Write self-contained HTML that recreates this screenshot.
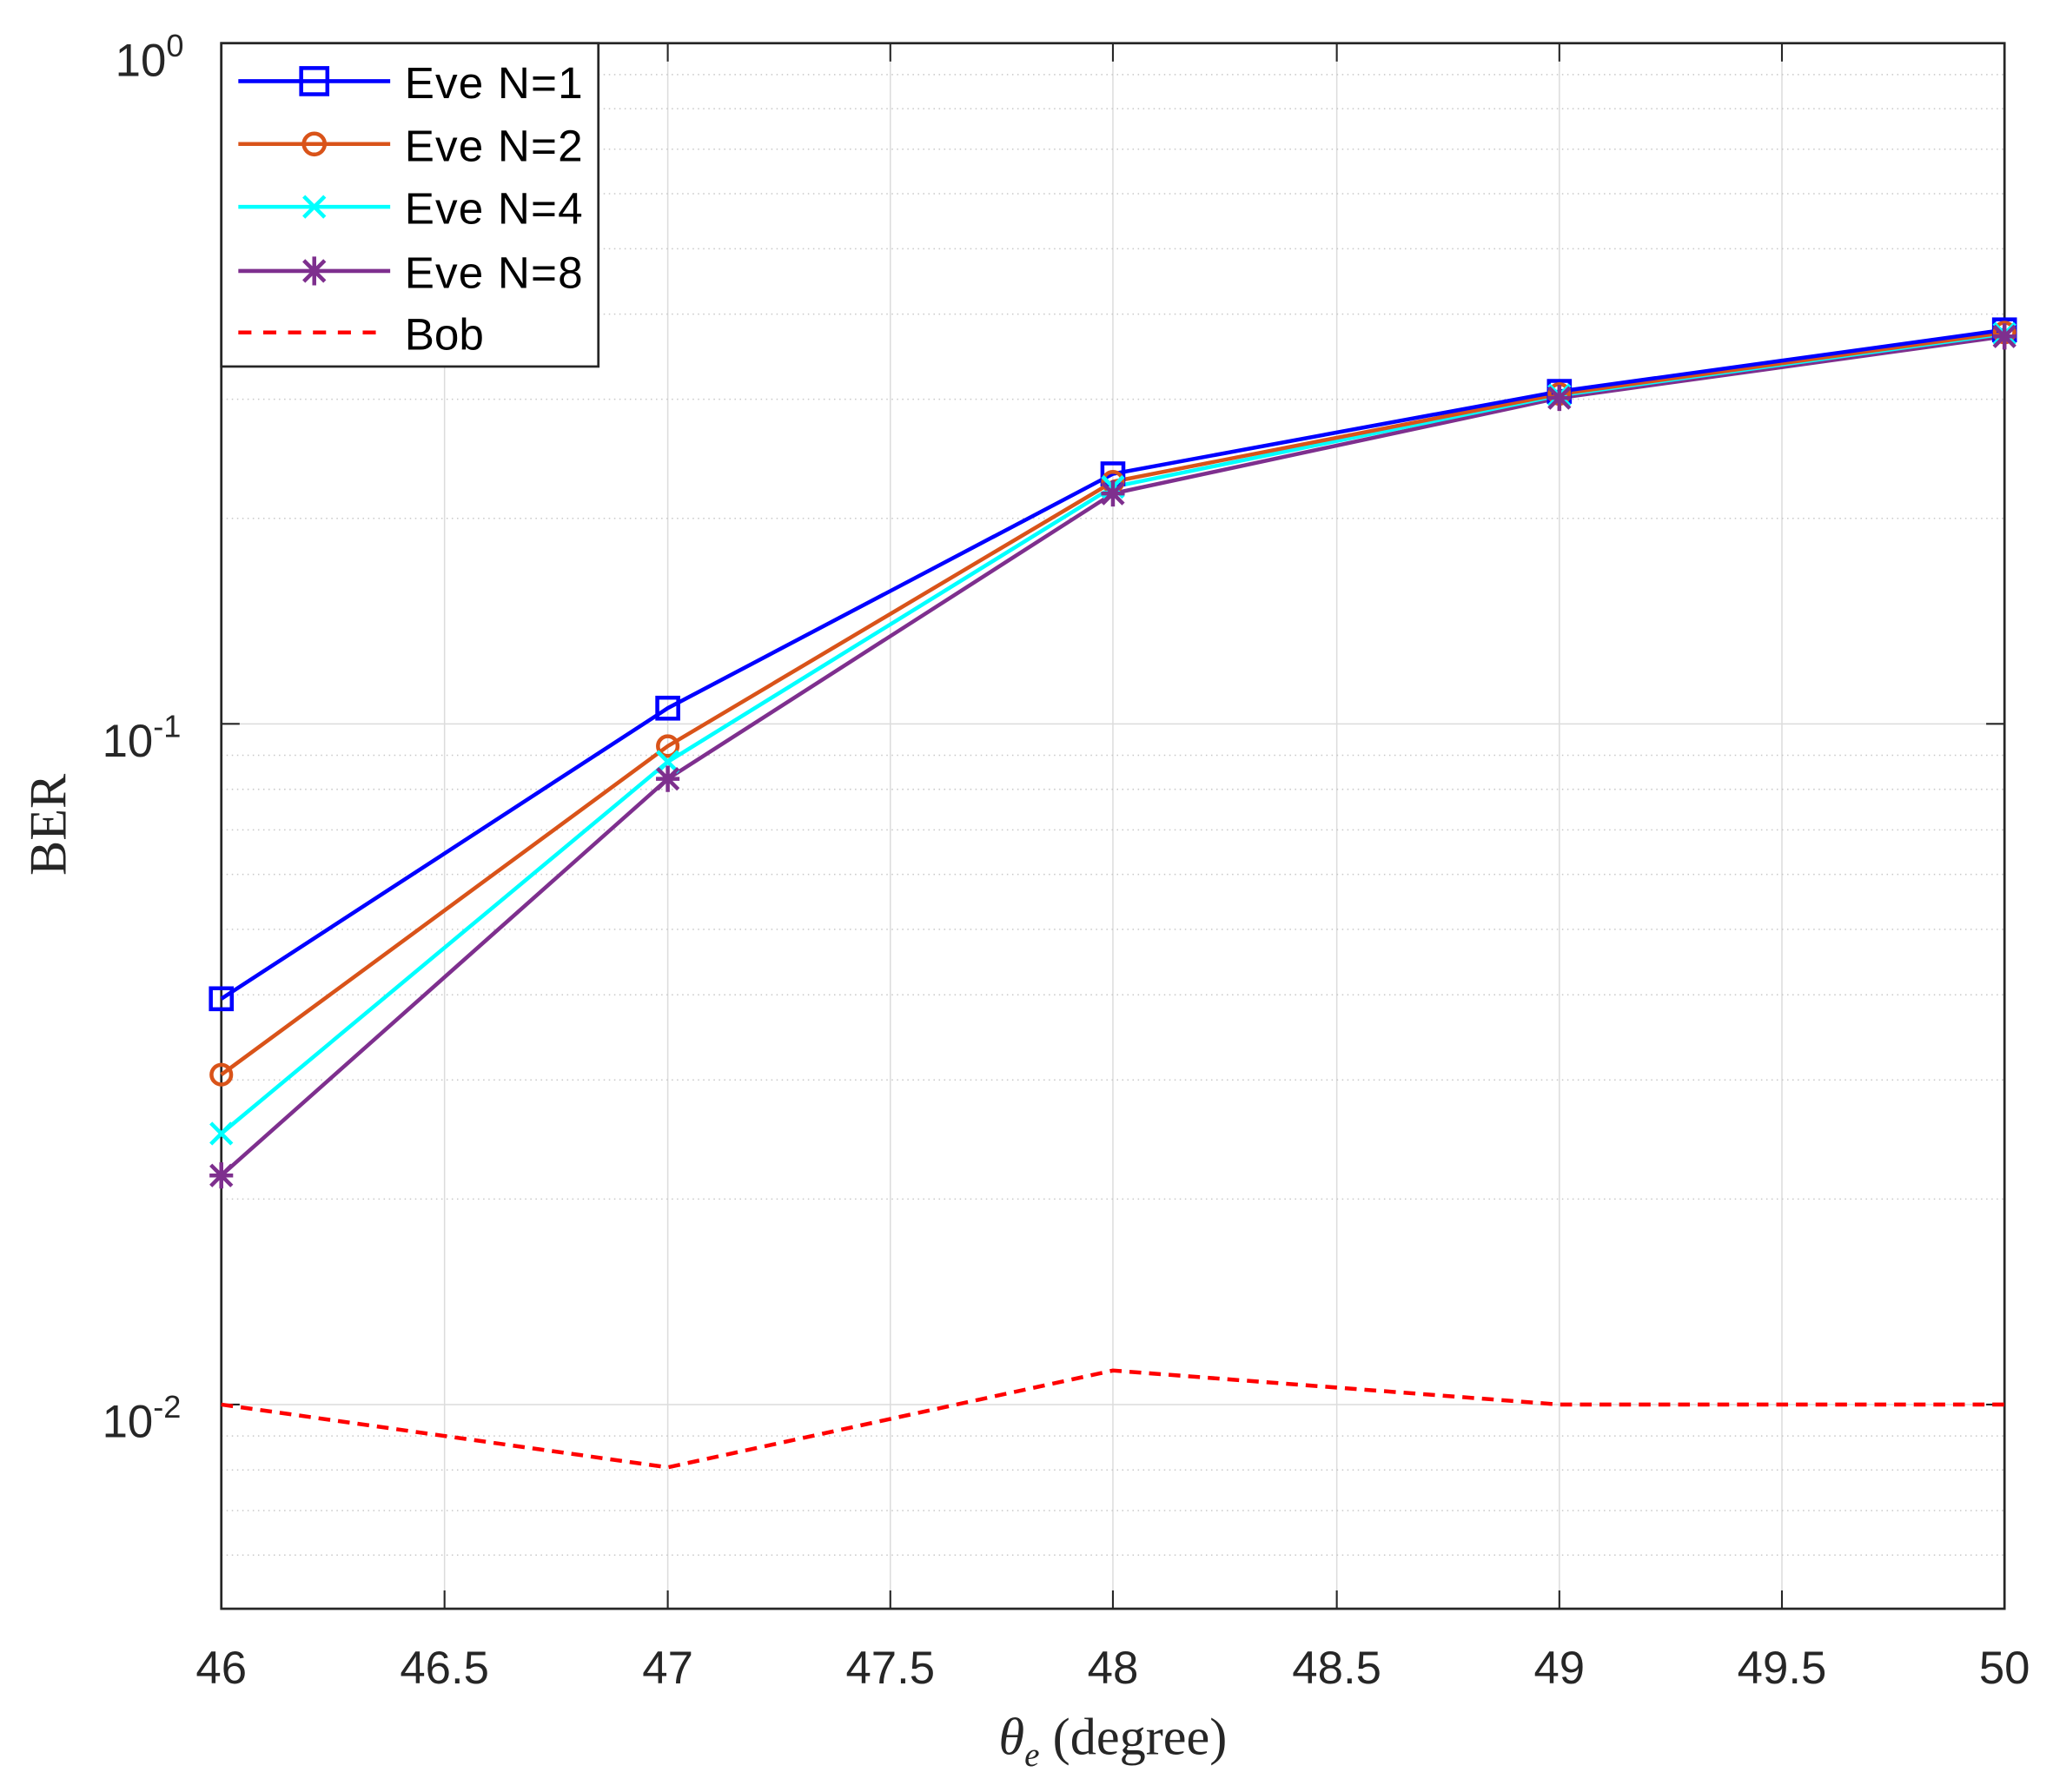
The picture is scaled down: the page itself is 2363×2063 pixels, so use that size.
<!DOCTYPE html>
<html><head><style>html,body{margin:0;padding:0;background:#fff}svg{display:block}</style></head>
<body>
<svg width="2363" height="2063" viewBox="0 0 1568 1369" xmlns="http://www.w3.org/2000/svg" font-family="Liberation Sans, Arial, sans-serif">
<rect width="1568" height="1369" fill="#fff"/>
<g stroke="#dcdcdc" stroke-width="1">
<line x1="339.5" y1="33" x2="339.5" y2="1229"/><line x1="510" y1="33" x2="510" y2="1229"/>
<line x1="680" y1="33" x2="680" y2="1229"/><line x1="850" y1="33" x2="850" y2="1229"/>
<line x1="1021" y1="33" x2="1021" y2="1229"/><line x1="1191" y1="33" x2="1191" y2="1229"/>
<line x1="1361" y1="33" x2="1361" y2="1229"/>
<line x1="169" y1="553" x2="1531" y2="553"/><line x1="169" y1="1073" x2="1531" y2="1073"/>
</g>
<g stroke="#c8c8c8" stroke-width="1" stroke-dasharray="1,3">
<line x1="169" y1="57" x2="1531" y2="57"/><line x1="169" y1="83" x2="1531" y2="83"/><line x1="169" y1="114" x2="1531" y2="114"/><line x1="169" y1="148" x2="1531" y2="148"/><line x1="169" y1="190" x2="1531" y2="190"/><line x1="169" y1="240" x2="1531" y2="240"/><line x1="169" y1="305" x2="1531" y2="305"/><line x1="169" y1="396" x2="1531" y2="396"/>
<line x1="169" y1="577" x2="1531" y2="577"/><line x1="169" y1="603" x2="1531" y2="603"/><line x1="169" y1="634" x2="1531" y2="634"/><line x1="169" y1="668" x2="1531" y2="668"/><line x1="169" y1="710" x2="1531" y2="710"/><line x1="169" y1="760" x2="1531" y2="760"/><line x1="169" y1="825" x2="1531" y2="825"/><line x1="169" y1="916" x2="1531" y2="916"/>
<line x1="169" y1="1097" x2="1531" y2="1097"/><line x1="169" y1="1123" x2="1531" y2="1123"/><line x1="169" y1="1154" x2="1531" y2="1154"/><line x1="169" y1="1188" x2="1531" y2="1188"/>
</g>
<rect x="169" y="33" width="1362" height="1196" fill="none" stroke="#262626" stroke-width="1.8"/>
<g stroke="#262626" stroke-width="1.4">
<line x1="339.5" y1="1229" x2="339.5" y2="1215"/><line x1="510" y1="1229" x2="510" y2="1215"/><line x1="680" y1="1229" x2="680" y2="1215"/><line x1="850" y1="1229" x2="850" y2="1215"/><line x1="1021" y1="1229" x2="1021" y2="1215"/><line x1="1191" y1="1229" x2="1191" y2="1215"/><line x1="1361" y1="1229" x2="1361" y2="1215"/>
<line x1="339.5" y1="33" x2="339.5" y2="47"/><line x1="510" y1="33" x2="510" y2="47"/><line x1="680" y1="33" x2="680" y2="47"/><line x1="850" y1="33" x2="850" y2="47"/><line x1="1021" y1="33" x2="1021" y2="47"/><line x1="1191" y1="33" x2="1191" y2="47"/><line x1="1361" y1="33" x2="1361" y2="47"/>
<line x1="169" y1="553" x2="183" y2="553"/><line x1="1531" y1="553" x2="1517" y2="553"/>
<line x1="169" y1="1073" x2="183" y2="1073"/><line x1="1531" y1="1073" x2="1517" y2="1073"/>
</g>
<g font-size="35" fill="#262626" text-anchor="middle">
<text x="169" y="1286">46</text><text x="339.5" y="1286">46.5</text><text x="510" y="1286">47</text><text x="680" y="1286">47.5</text><text x="850" y="1286">48</text><text x="1021" y="1286">48.5</text><text x="1191" y="1286">49</text><text x="1361" y="1286">49.5</text><text x="1531" y="1286">50</text>
</g>
<g font-size="35" fill="#262626" text-anchor="end">
<text x="150" y="58" text-anchor="start" dx="-62">10<tspan font-size="24" dy="-15">0</tspan></text>
<text x="150" y="578" text-anchor="start" dx="-72">10<tspan font-size="24" dy="-15">-1</tspan></text>
<text x="150" y="1098" text-anchor="start" dx="-72">10<tspan font-size="24" dy="-15">-2</tspan></text>
</g>
<text x="850" y="1340" font-family="Liberation Serif, serif" font-size="40" fill="#262626" text-anchor="middle"><tspan font-style="italic">θ</tspan><tspan font-style="italic" font-size="26" dy="9">e</tspan><tspan dy="-9">  (degree)</tspan></text>
<text transform="translate(50,630) rotate(-90)" font-family="Liberation Serif, serif" font-size="40" fill="#262626" text-anchor="middle">BER</text>
<polyline points="169,1073 510,1121 850,1047 1191,1073 1531,1073" fill="none" stroke="#ff0000" stroke-width="3" stroke-dasharray="9,6"/>
<g fill="none" stroke-width="3">
<polyline points="169,898 510,595 850,377 1191,304 1531,257" stroke="#7e2f8e"/>
<polyline points="169,866 510,582 850,372 1191,302 1531,255" stroke="#00ffff"/>
<polyline points="169,821 510,570 850,368 1191,301 1531,254" stroke="#d95319"/>
<polyline points="169,763 510,541 850,362 1191,299 1531,252" stroke="#0000ff"/>
</g>
<g fill="none" stroke="#0000ff" stroke-width="3">
<rect x="161" y="755" width="16" height="16"/><rect x="502" y="533" width="16" height="16"/><rect x="842" y="354" width="16" height="16"/><rect x="1183" y="291" width="16" height="16"/><rect x="1523" y="244" width="16" height="16"/>
</g>
<g fill="none" stroke="#d95319" stroke-width="3">
<circle cx="169" cy="821" r="7.5"/><circle cx="510" cy="570" r="7.5"/><circle cx="850" cy="368" r="7.5"/><circle cx="1191" cy="301" r="7.5"/><circle cx="1531" cy="254" r="7.5"/>
</g>
<g stroke="#00ffff" stroke-width="3">
<path d="M161,858l16,16M177,858l-16,16M502,574l16,16M518,574l-16,16M842,364l16,16M858,364l-16,16M1183,294l16,16M1199,294l-16,16M1523,247l16,16M1539,247l-16,16"/>
</g>
<g stroke="#7e2f8e" stroke-width="3">
<path d="M161,890l16,16M177,890l-16,16M169,888v20M160,898h18 M502,587l16,16M518,587l-16,16M510,585v20M501,595h18 M842,369l16,16M858,369l-16,16M850,367v20M841,377h18 M1183,296l16,16M1199,296l-16,16M1191,294v20M1182,304h18 M1523,249l16,16M1539,249l-16,16M1531,247v20M1522,257h18"/>
</g>
<rect x="169" y="33" width="288" height="247" fill="#fff" stroke="#262626" stroke-width="1.8"/>
<g stroke-width="3" fill="none">
<line x1="182" y1="62" x2="298" y2="62" stroke="#0000ff"/><rect x="230" y="52" width="20" height="20" stroke="#0000ff"/>
<line x1="182" y1="110" x2="298" y2="110" stroke="#d95319"/><circle cx="240" cy="110" r="8" stroke="#d95319"/>
<line x1="182" y1="158" x2="298" y2="158" stroke="#00ffff"/><path d="M232,150l16,16M248,150l-16,16" stroke="#00ffff"/>
<line x1="182" y1="207" x2="298" y2="207" stroke="#7e2f8e"/><path d="M232,199l16,16M248,199l-16,16M240,196v22" stroke="#7e2f8e"/>
<line x1="182" y1="254" x2="290" y2="254" stroke="#ff0000" stroke-dasharray="10,9"/>
</g>
<g font-size="34" fill="#000">
<text x="309" y="75" textLength="136">Eve N=1</text><text x="309" y="123" textLength="136">Eve N=2</text><text x="309" y="171" textLength="136">Eve N=4</text><text x="309" y="220" textLength="136">Eve N=8</text><text x="309" y="267">Bob</text>
</g>
</svg>
</body></html>
